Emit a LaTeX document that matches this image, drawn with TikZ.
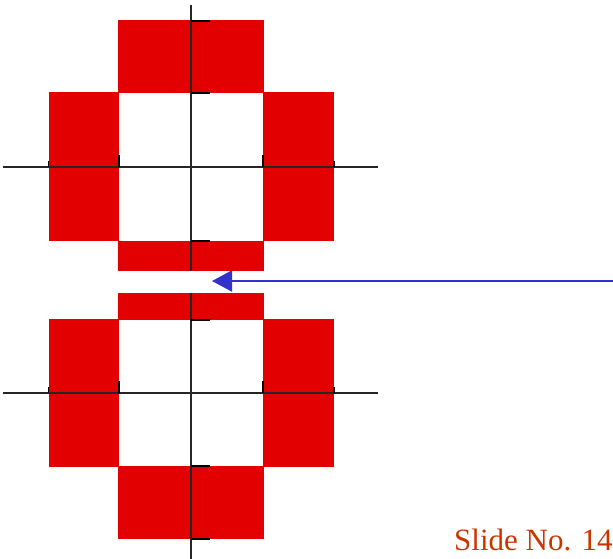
\documentclass[tikz,border=0pt]{standalone}
\usepackage{fontspec}
\setmainfont{Liberation Serif}
\usepackage{xcolor}
\usetikzlibrary{arrows.meta}
\definecolor{cellred}{RGB}{226,0,0}
\definecolor{arrblue}{RGB}{51,51,204}
\definecolor{slidetext}{RGB}{204,51,0}

\begin{document}
\begin{tikzpicture}[
    x=1pt, y=-1pt,
    cell/.style={fill=cellred},
    axis/.style={draw=black!85, line width=1.2pt},
    tick/.style={draw=black, line width=1.2pt},
    arr/.style={-{Triangle[length=20pt, width=21pt]}, draw=arrblue, fill=arrblue, line width=2pt},
    label/.style={font=\fontsize{31}{37}\selectfont, text=slidetext, inner sep=0pt}
]
    \useasboundingbox (0,0) rectangle (613,559);

    % upper set of cells
    \fill[cell] (118,20) rectangle (264,93);
    \fill[cell] (48.5,92.5) rectangle (119,241);
    \fill[cell] (263,92.5) rectangle (334,241);
    \fill[cell] (118,241) rectangle (264,271);
    \draw[axis] (3,167) -- (378,167);
    \draw[axis] (191,5) -- (191,271);
    \foreach \ty in {21,93,241}
        \draw[tick] (191,\ty) -- (210,\ty);
    \foreach \tx/\th in {48.5/6,119/12,263/12,334/6}
        \draw[tick] (\tx,167) -- (\tx,167-\th);

    % lower set of cells
    \fill[cell] (118,293) rectangle (264,320);
    \fill[cell] (48.5,319) rectangle (119,467);
    \fill[cell] (263,319) rectangle (334,467);
    \fill[cell] (118,466) rectangle (264,539);
    \draw[axis] (3,393) -- (378,393);
    \draw[axis] (191,293) -- (191,559);
    \foreach \ty in {320,466,539}
        \draw[tick] (191,\ty) -- (210,\ty);
    \foreach \tx/\th in {48.5/6,119/12,263/12,334/6}
        \draw[tick] (\tx,393) -- (\tx,393-\th);

    \coordinate (tail) at (613,281);
    \coordinate (tip) at (212,281);
    \draw[arr] (tail) -- (tip);

    \node[label, anchor=base west] (slideno) at (454,550) {Slide No. 14};
\end{tikzpicture}
\end{document}
